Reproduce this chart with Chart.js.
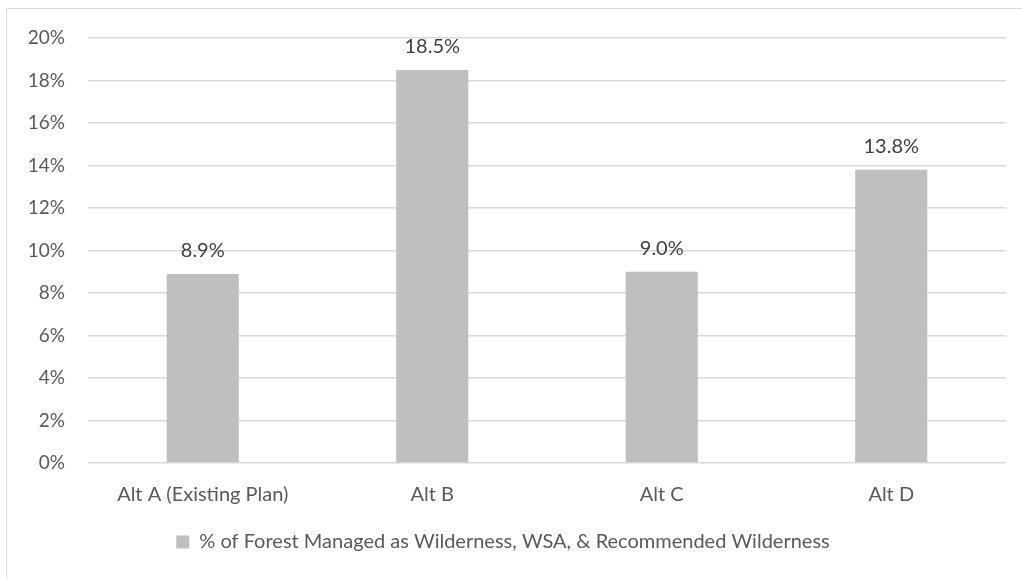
<!DOCTYPE html>
<html>
<head>
<meta charset="utf-8">
<script src="https://cdn.jsdelivr.net/npm/chart.js@4/dist/chart.umd.min.js"></script>
<style>
    html, body { margin: 0; padding: 0; background: #fff; overflow: hidden; }
    #frame {
        position: absolute; left: 6px; top: 8px; width: 1100px; height: 700px;
        border: 1.5px solid #d9d9d9; box-sizing: border-box;
    }
    #wrap { position: absolute; left: 0; top: 0; width: 1022px; height: 579px; }
</style>
</head>
<body>
<div id="frame"></div>
<div id="wrap"><canvas id="myChart"></canvas></div>
<script>
// data
var categories = ['Alt A (Existing Plan)', 'Alt B', 'Alt C', 'Alt D'];
var seriesName = '% of Forest Managed as Wilderness, WSA, & Recommended Wilderness';
var wildernessPct = [8.9, 18.5, 9.0, 13.8];
var yTicks = [0, 2, 4, 6, 8, 10, 12, 14, 16, 18, 20];

var fontFamily = 'Lato, "Open Sans", sans-serif';

// value labels above bars
const barLabels = {
    id: 'barLabels',
    afterDatasetsDraw(chart) {
        const ctx = chart.ctx;
        const meta = chart.getDatasetMeta(0);
        ctx.save();
        ctx.font = '20px ' + fontFamily;
        ctx.fillStyle = '#404040';
        ctx.textAlign = 'center';
        ctx.textBaseline = 'middle';
        meta.data.forEach(function(bar, i) {
            ctx.fillText(wildernessPct[i].toFixed(1) + '%', bar.x, bar.y - 23);
        });
        ctx.restore();
    }
};

const ctx = document.getElementById('myChart').getContext('2d');
const myChart = new Chart(ctx, {
    type: 'bar',
    data: {
        labels: categories,
        datasets: [{
            label: seriesName,
            data: wildernessPct,
            backgroundColor: '#bfbfbf',
            borderWidth: 0,
            categoryPercentage: 1,
            barPercentage: 0.314
        }]
    },
    options: {
        responsive: true,
        maintainAspectRatio: false,
        animation: false,
        layout: {
            padding: { left: 0, right: 16, top: 38, bottom: 17 }
        },
        plugins: {
            legend: {
                position: 'bottom',
                labels: {
                    boxWidth: 13,
                    boxHeight: 13,
                    color: '#595959',
                    padding: 5,
                    font: { family: fontFamily, size: 20 }
                }
            },
            tooltip: { enabled: false }
        },
        scales: {
            x: {
                grid: { display: false, drawTicks: false },
                border: { display: false },
                ticks: {
                    color: '#595959',
                    padding: 20,
                    font: { family: fontFamily, size: 20 }
                }
            },
            y: {
                min: 0,
                max: 20,
                afterFit: function(scale) { scale.width = 88; },
                afterBuildTicks: function(scale) {
                    scale.ticks = yTicks.map(function(v) { return { value: v }; });
                },
                grid: { color: '#d9d9d9', lineWidth: 1.5, drawTicks: false },
                border: { display: false },
                ticks: {
                    color: '#595959',
                    padding: 23,
                    font: { family: fontFamily, size: 19 },
                    callback: function(v) { return v + '%'; }
                }
            }
        }
    },
    plugins: [barLabels]
});
</script>
</body>
</html>
